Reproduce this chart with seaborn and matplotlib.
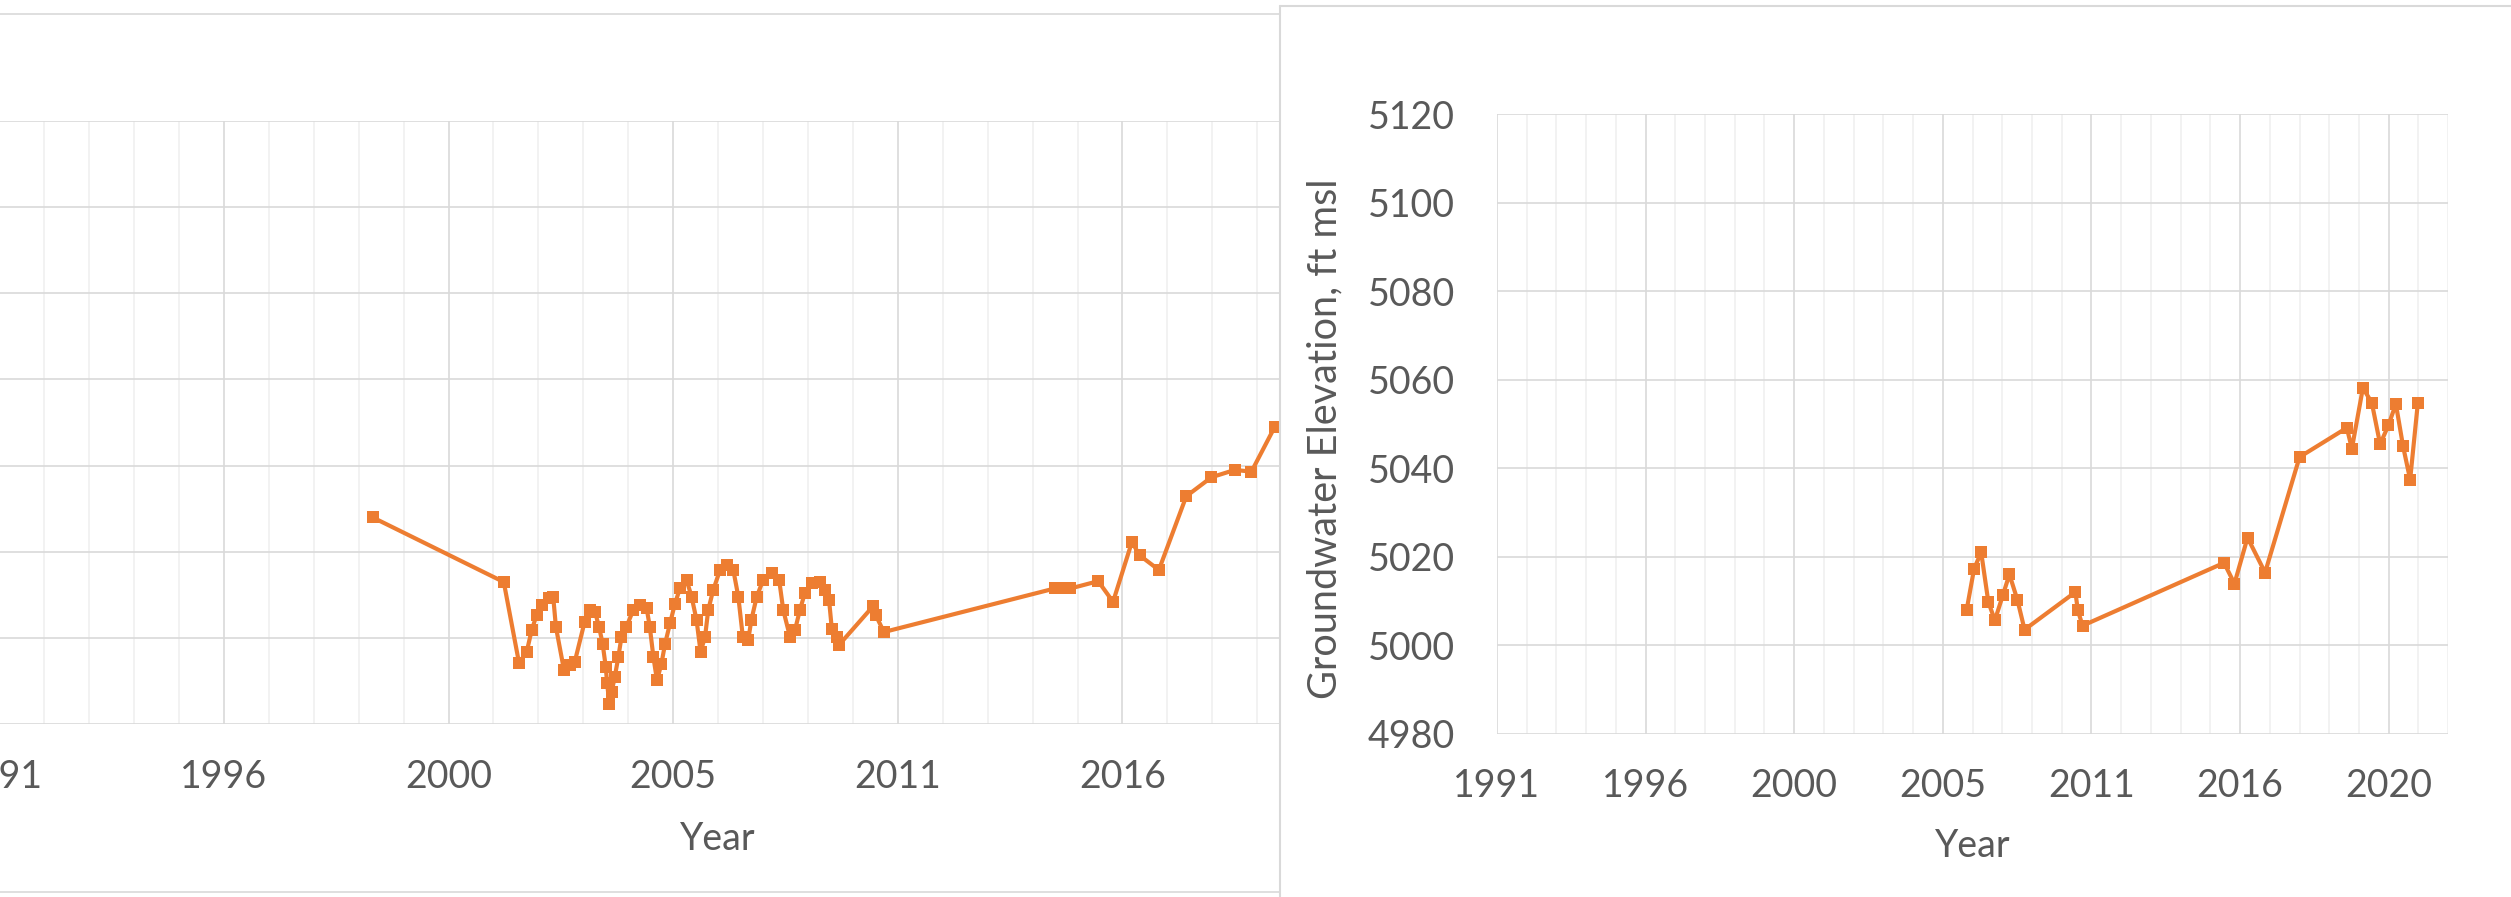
import matplotlib
matplotlib.use("Agg")
import matplotlib.pyplot as plt
import seaborn as sns
from matplotlib.lines import Line2D
from matplotlib.patches import Rectangle
from matplotlib.ticker import MultipleLocator, FixedLocator, FixedFormatter

# left well (partly hidden behind the second chart)
left_years = [1999.31, 2002.23, 2002.57, 2002.74, 2002.85, 2002.96, 2003.09, 2003.24, 2003.33, 2003.39,
              2003.57, 2003.70, 2003.81, 2004.03, 2004.15, 2004.26, 2004.35, 2004.43, 2004.50, 2004.53,
              2004.58, 2004.63, 2004.70, 2004.78, 2004.85, 2004.96, 2005.11, 2005.26, 2005.41, 2005.48,
              2005.56, 2005.64, 2005.74, 2005.82, 2005.93, 2006.04, 2006.15, 2006.30, 2006.41, 2006.52,
              2006.61, 2006.71, 2006.78, 2006.89, 2007.04, 2007.19, 2007.34, 2007.45, 2007.55, 2007.67,
              2007.74, 2007.86, 2008.00, 2008.19, 2008.36, 2008.45, 2008.60, 2008.71, 2008.82, 2008.93,
              2009.08, 2009.27, 2009.38, 2009.47, 2009.53, 2009.64, 2009.69, 2010.45, 2010.51, 2010.69,
              2014.49, 2014.66, 2014.84, 2015.46, 2015.79, 2016.21, 2016.38, 2016.81, 2017.42, 2017.98,
              2018.50, 2018.87, 2019.39]
left_levels = [5028.0, 5013.0, 4994.2, 4996.8, 5001.8, 5005.3, 5007.6, 5009.3, 5009.6, 5002.6,
               4992.6, 4993.7, 4994.5, 5003.8, 5006.5, 5006.1, 5002.6, 4998.7, 4993.3, 4989.5,
               4984.8, 4987.5, 4991.0, 4995.6, 5000.3, 5002.6, 5006.5, 5007.6, 5006.9, 5002.6,
               4995.6, 4990.2, 4994.1, 4998.7, 5003.4, 5008.0, 5011.5, 5013.4, 5009.6, 5004.2,
               4996.8, 5000.3, 5006.5, 5011.1, 5015.7, 5016.9, 5015.7, 5009.6, 5000.3, 4999.5,
               5004.2, 5009.6, 5013.4, 5015.0, 5013.4, 5006.5, 5000.3, 5001.8, 5006.5, 5010.4,
               5012.7, 5013.0, 5011.1, 5008.8, 5002.2, 5000.3, 4998.4, 5007.4, 5005.3, 5001.4,
               5011.5, 5011.5, 5011.5, 5013.2, 5008.4, 5022.3, 5019.2, 5015.8, 5032.9, 5037.3,
               5039.0, 5038.6, 5049.0]

# right well
right_years = [2006.80, 2007.05, 2007.29, 2007.53, 2007.75, 2008.02, 2008.24, 2008.51, 2008.75,
               2010.46, 2010.54, 2010.70, 2015.46, 2015.81, 2016.25, 2016.84, 2018.00, 2019.59,
               2019.76, 2020.13, 2020.43, 2020.71, 2020.99, 2021.24, 2021.48, 2021.72, 2021.98]
right_levels = [5007.9, 5017.2, 5021.0, 5009.8, 5005.6, 5011.3, 5016.0, 5010.2, 5003.5,
                5012.0, 5007.9, 5004.4, 5018.6, 5013.9, 5024.3, 5016.4, 5042.5, 5049.1,
                5044.4, 5058.1, 5054.8, 5045.4, 5049.7, 5054.5, 5045.0, 5037.4, 5054.8]

year_ticks = [1991, 1996, 2001, 2006, 2011, 2016, 2021]
year_labels = ["1991", "1996", "2000", "2005", "2011", "2016", "2020"]
elev_ticks = [4980, 5000, 5020, 5040, 5060, 5080, 5100, 5120]

orange = "#ED7D31"
grid_major = "#D9D9D9"
grid_minor = "#F0F0F0"
text_col = "#595959"

sns.set_theme(style="white")
plt.rcParams["font.family"] = ["Lato", "DejaVu Sans"]

W, H = 2511, 897
fig = plt.figure(figsize=(W / 100, H / 100), dpi=100)


def box(x0, y0, x1, y1):
    # pixel box (y from top) -> figure fraction
    return [x0 / W, 1 - y1 / H, (x1 - x0) / W, (y1 - y0) / H]


def style(ax):
    ax.set_xlim(1991, 2023)
    ax.set_ylim(4980, 5120)
    ax.xaxis.set_major_locator(FixedLocator(year_ticks))
    ax.xaxis.set_major_formatter(FixedFormatter(year_labels))
    ax.xaxis.set_minor_locator(MultipleLocator(1))
    ax.set_yticks(elev_ticks)
    ax.set_axisbelow(True)
    ax.grid(which="major", axis="both", color=grid_major, lw=1.2)
    ax.grid(which="minor", axis="x", color=grid_minor, lw=1.2)
    for s in ax.spines.values():
        s.set_visible(False)
    ax.tick_params(axis="both", which="both", length=0, labelsize=27, labelcolor=text_col)
    ax.tick_params(axis="x", pad=25)
    ax.tick_params(axis="y", pad=30)
    ax.set_facecolor("white")


# chart 1 (left, cut off; its y labels are outside the picture)
ax_l = fig.add_axes(box(-0.8, 120.7, 1437, 724.3))
ax_l.set_zorder(0)
sns.lineplot(x=left_years, y=left_levels, ax=ax_l, sort=False, estimator=None, color=orange,
             lw=3, marker="s", markersize=9, markeredgewidth=0)
style(ax_l)
ax_l.tick_params(axis="y", labelleft=False)
ax_l.set_xlabel("Year", fontsize=27, color=text_col)
ax_l.xaxis.set_label_coords(0.5, -0.161)
ax_l.set_ylabel("")

fig.add_artist(Line2D([0, 1279.7 / W], [1 - 13.7 / H] * 2, color=grid_major, lw=1.2, zorder=0.5))
fig.add_artist(Line2D([0, 1279.7 / W], [1 - 891.7 / H] * 2, color=grid_major, lw=1.2, zorder=0.5))

# chart 2 sits on top of chart 1
fig.add_artist(Rectangle((1279.7 / W, 0), 1 - 1279.7 / W, 1 - 5.7 / H, transform=fig.transFigure,
                         facecolor="white", edgecolor="none", zorder=1))
fig.add_artist(Line2D([1279.7 / W] * 2, [0, 1 - 5.7 / H], color=grid_major, lw=1.5, zorder=3))
fig.add_artist(Line2D([1279.7 / W, 1], [1 - 5.7 / H] * 2, color=grid_major, lw=1.5, zorder=3))

ax_r = fig.add_axes(box(1496.9, 114, 2448.2, 733.7))
ax_r.set_zorder(2)
sns.lineplot(x=right_years, y=right_levels, ax=ax_r, sort=False, estimator=None, color=orange,
             lw=3, marker="s", markersize=9, markeredgewidth=0)
style(ax_r)
ax_r.set_xlabel("Year", fontsize=27, color=text_col)
ax_r.xaxis.set_label_coords(0.5, -0.1525)
ax_r.set_ylabel("Groundwater Elevation, ft msl", fontsize=28.5, color=text_col)
ax_r.yaxis.set_label_coords(-0.1613, 0.4756)

fig.savefig("out.png", dpi=100, facecolor="white")
